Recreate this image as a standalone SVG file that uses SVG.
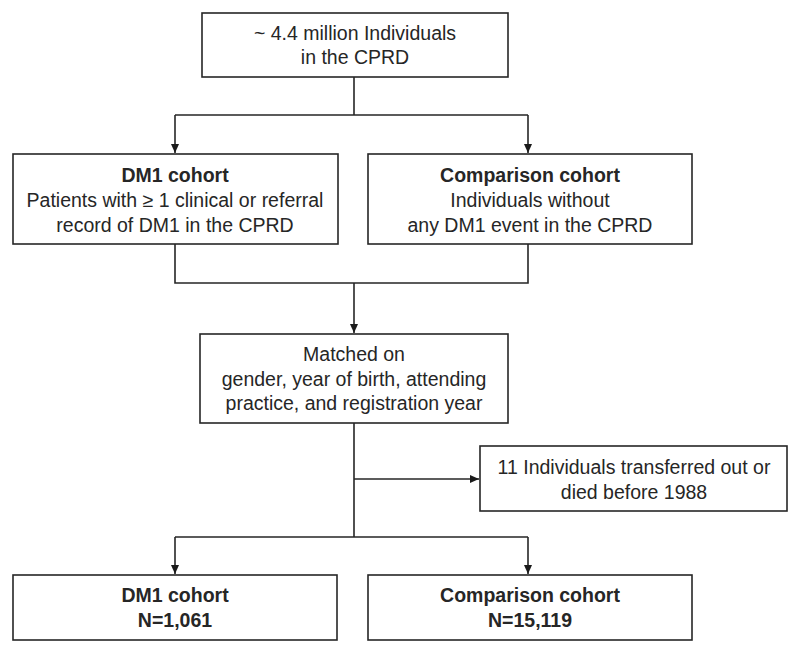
<svg xmlns="http://www.w3.org/2000/svg" width="800" height="653" viewBox="0 0 800 653">
<style>
.box{fill:#fff;stroke:#262626;stroke-width:1.6}
.t{font-family:"Liberation Sans",Arial,sans-serif;font-size:19.5px;fill:#262626;text-anchor:middle}
.b{font-weight:bold}
.c{fill:none;stroke:#262626;stroke-width:1.6}
</style>
<defs>
<marker id="ah" markerUnits="userSpaceOnUse" markerWidth="9" markerHeight="8" refX="9" refY="4" orient="auto">
<path d="M0,0 L9,4 L0,8 z" fill="#1a1a1a"/>
</marker>
</defs>
<rect width="800" height="653" fill="#fff"/>
<g id="connectors">
<path class="c" d="M354,77 V115 M175,115 H528"/>
<path class="c" d="M175,115 V153" marker-end="url(#ah)"/>
<path class="c" d="M528,115 V153" marker-end="url(#ah)"/>
<path class="c" d="M175,244 V283 H528 V244"/>
<path class="c" d="M354,283 V333" marker-end="url(#ah)"/>
<path class="c" d="M354,423 V537 M175,537 H528"/>
<path class="c" d="M354,479 H479" marker-end="url(#ah)"/>
<path class="c" d="M175,537 V574" marker-end="url(#ah)"/>
<path class="c" d="M528,537 V574" marker-end="url(#ah)"/>
</g>
<g id="n-source">
<rect class="box" x="202" y="13" width="306" height="64"/>
<text class="t" x="355" y="40">~ 4.4 million Individuals</text>
<text class="t" x="355" y="64">in the CPRD</text>
</g>
<g id="n-dm1">
<rect class="box" x="13" y="154" width="325" height="90"/>
<text class="t b" x="175" y="182">DM1 cohort</text>
<text class="t" x="175" y="207">Patients with ≥ 1 clinical or referral</text>
<text class="t" x="175" y="232">record of DM1 in the CPRD</text>
</g>
<g id="n-comparison">
<rect class="box" x="368" y="154" width="324" height="90"/>
<text class="t b" x="530" y="182">Comparison cohort</text>
<text class="t" x="530" y="207">Individuals without</text>
<text class="t" x="530" y="232">any DM1 event in the CPRD</text>
</g>
<g id="n-matched">
<rect class="box" x="200" y="334" width="308" height="89"/>
<text class="t" x="354" y="361">Matched on</text>
<text class="t" x="354" y="386">gender, year of birth, attending</text>
<text class="t" x="354" y="410">practice, and registration year</text>
</g>
<g id="n-excluded">
<rect class="box" x="480" y="446" width="307" height="65"/>
<text class="t" x="634" y="474">11 Individuals transferred out or</text>
<text class="t" x="634" y="499">died before 1988</text>
</g>
<g id="n-dm1-final">
<rect class="box" x="13" y="575" width="324" height="65"/>
<text class="t b" x="175" y="602">DM1 cohort</text>
<text class="t b" x="175" y="627">N=1,061</text>
</g>
<g id="n-comparison-final">
<rect class="box" x="368" y="575" width="324" height="65"/>
<text class="t b" x="530" y="602">Comparison cohort</text>
<text class="t b" x="530" y="627">N=15,119</text>
</g>
</svg>
